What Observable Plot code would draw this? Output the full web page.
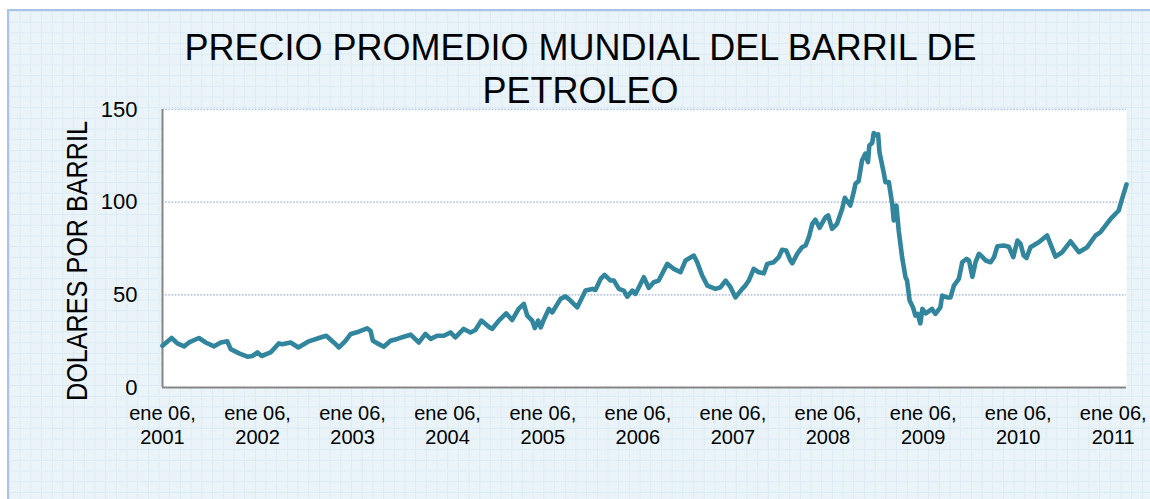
<!DOCTYPE html>
<html><head><meta charset="utf-8">
<script src="https://cdn.jsdelivr.net/npm/d3@7"></script>
<script src="https://cdn.jsdelivr.net/npm/@observablehq/plot@0.6"></script>
<style>
html,body{margin:0;padding:0;background:#fff;}
#wrap{position:relative;width:1150px;height:499px;overflow:hidden;background:#fff;}
#bg{position:absolute;left:7px;top:9px;width:1160px;height:500px;border-left:2px solid #a9c2e8;border-top:2px solid #a9c2e8;background-color:#eaf4f8;background-image:linear-gradient(#dbebf4 1px,transparent 1px),linear-gradient(90deg,#dbebf4 1px,transparent 1px);background-size:10.7px 10.7px;}
#title{position:absolute;left:0;width:1161px;top:26px;text-align:center;font-family:"Liberation Sans",Arial,sans-serif;font-size:36px;line-height:43px;color:#000;}
#ylab{position:absolute;left:77px;top:261px;transform:translate(-50%,-50%) rotate(-90deg) scaleX(0.84);white-space:nowrap;font-family:"Liberation Sans",Arial,sans-serif;font-size:30px;line-height:30px;color:#000;}
#chart{position:absolute;left:0;top:0;}
</style></head>
<body><div id="wrap"><div id="bg"></div><div id="chart"></div><div id="title">PRECIO PROMEDIO MUNDIAL DEL BARRIL DE<br>PETROLEO</div><div id="ylab">DOLARES POR BARRIL</div></div>
<script>
const dates = ["2001-01-06","2001-02-10","2001-03-04","2001-03-30","2001-04-18","2001-05-26","2001-06-21","2001-07-23","2001-08-18","2001-09-12","2001-09-25","2001-10-27","2001-11-28","2001-12-17",
"2002-01-06","2002-01-22","2002-02-25","2002-03-29","2002-04-11","2002-05-13","2002-06-12","2002-07-22","2002-08-30","2002-09-27","2002-10-26","2002-11-15","2002-12-10","2002-12-30",
"2003-01-30","2003-03-03","2003-03-16","2003-03-25","2003-04-17","2003-05-06","2003-06-01","2003-06-27","2003-07-22","2003-08-17","2003-09-18","2003-10-13","2003-11-02","2003-11-27","2003-12-23",
"2004-01-17","2004-02-05","2004-03-08","2004-04-03","2004-04-22","2004-05-15","2004-06-12","2004-06-25","2004-07-21","2004-08-18","2004-09-10","2004-10-05","2004-10-25","2004-11-07","2004-11-26","2004-12-06","2004-12-19","2004-12-29",
"2005-01-11","2005-01-29","2005-02-11","2005-03-15","2005-04-03","2005-04-22","2005-05-18","2005-06-19","2005-07-15","2005-07-27","2005-08-16","2005-08-31","2005-09-23","2005-10-06","2005-10-25","2005-11-13","2005-11-26","2005-12-16","2005-12-28",
"2006-01-29","2006-02-17","2006-03-08","2006-03-27","2006-04-29","2006-05-24","2006-06-19","2006-07-08","2006-08-09","2006-08-22","2006-09-10","2006-09-30","2006-10-31","2006-11-20","2006-12-09","2006-12-28",
"2007-01-16","2007-02-11","2007-02-23","2007-03-08","2007-03-27","2007-04-15","2007-05-05","2007-05-18","2007-06-12","2007-07-01","2007-07-14","2007-07-30","2007-08-15","2007-08-22","2007-09-10","2007-09-29","2007-10-12","2007-10-25","2007-11-07","2007-11-19","2007-12-05","2007-12-28",
"2008-01-07","2008-01-22","2008-02-10","2008-03-01","2008-03-11","2008-04-01","2008-04-14","2008-04-21","2008-05-03","2008-05-16","2008-05-29","2008-06-08","2008-06-13","2008-06-24","2008-06-30","2008-07-09","2008-07-17","2008-07-22","2008-08-07","2008-08-14","2008-08-27","2008-09-09","2008-09-15","2008-09-25","2008-10-04","2008-10-17","2008-10-30","2008-11-05","2008-11-15","2008-11-28","2008-12-07","2008-12-16","2008-12-26",
"2009-01-03","2009-01-16","2009-02-09","2009-02-22","2009-03-13","2009-03-20","2009-04-08","2009-04-21","2009-05-04","2009-05-23","2009-06-05","2009-06-22","2009-07-01","2009-07-14","2009-07-26","2009-08-08","2009-08-21","2009-09-03","2009-09-22","2009-10-05","2009-10-18","2009-11-12","2009-12-01","2009-12-18",
"2010-01-03","2010-01-15","2010-01-27","2010-02-07","2010-02-22","2010-03-26","2010-04-27","2010-05-29","2010-06-24","2010-07-26","2010-08-27","2010-09-28","2010-10-30","2010-11-18","2010-12-27",
"2011-01-27","2011-02-09","2011-02-26"];

const prices = [22.5,26.7,23.8,22.2,24.3,26.7,24.3,22.2,24.3,24.9,20.7,18.4,16.6,17.0,
18.9,17.0,18.9,23.8,23.4,24.3,21.6,24.9,26.7,27.9,24.3,21.6,25.2,28.9,
30.1,31.9,30.6,25.2,23.4,22.0,25.2,26.2,27.4,28.5,24.3,28.9,26.2,27.9,27.9,
29.7,27.0,31.6,29.7,31.0,36.1,32.8,31.6,36.1,40.0,36.4,42.4,45.1,38.8,36.1,32.1,36.1,32.4,
37.0,42.4,40.5,47.8,49.2,46.9,43.2,52.3,53.2,52.6,58.6,60.8,57.7,57.7,53.2,52.3,49.0,52.3,50.5,
59.5,53.7,56.8,57.7,66.7,64.0,62.2,68.5,71.2,67.6,60.4,55.0,53.2,54.1,57.7,54.1,
48.6,53.2,55.0,57.7,64.0,62.2,61.6,66.7,67.6,70.3,74.3,73.9,68.5,67.0,72.1,75.7,76.6,81.1,88.3,90.5,86.2,91.9,
92.8,85.6,88.3,96.4,102.4,98.2,105.4,109.9,111.4,122.5,126.2,121.6,130.6,131.9,137.3,136.1,136.6,127.0,116.2,110.8,110.8,99.1,90.1,98.2,84.7,70.3,59.5,57.7,46.9,43.2,38.8,39.7,34.6,
42.4,40.0,42.4,39.7,43.2,49.6,48.6,48.6,55.0,58.6,67.6,69.4,68.5,59.8,67.6,72.1,70.6,68.5,67.6,70.3,76.2,76.6,76.0,70.3,
79.3,77.5,71.2,69.9,75.7,78.4,82.0,70.6,73.0,78.9,73.0,75.7,82.0,83.8,91.0,
95.5,101.8,109.6];

const xTickDates = ["2001-01-06","2002-01-06","2003-01-06","2004-01-06","2005-01-06","2006-01-06","2007-01-06","2008-01-06","2009-01-06","2010-01-06","2011-01-06"];
const xTickLabels = ["ene 06,\n2001","ene 06,\n2002","ene 06,\n2003","ene 06,\n2004","ene 06,\n2005","ene 06,\n2006","ene 06,\n2007","ene 06,\n2008","ene 06,\n2009","ene 06,\n2010","ene 06,\n2011"];
const yTicks = [0, 50, 100, 150];
const yGrid = [50, 100, 150];

const data = dates.map((d, i) => ({date: new Date(d), price: prices[i]}));
const tickDates = xTickDates.map(d => new Date(d));
const labelMap = new Map(tickDates.map((d, i) => [+d, xTickLabels[i]]));
const xDomain = [new Date(dates[0]), new Date(dates[dates.length - 1])];

const chart = Plot.plot({
  width: 1150,
  height: 499,
  marginLeft: 162,
  marginRight: 24,
  marginTop: 109,
  marginBottom: 112,
  style: {background: "transparent", color: "#000", fontFamily: "'Liberation Sans', Arial, sans-serif", overflow: "visible"},
  x: {type: "utc", domain: xDomain},
  y: {domain: [0, 150]},
  marks: [
    Plot.frame({fill: "#fff", stroke: null}),
    Plot.gridY(yGrid, {stroke: "#b4c6e7", strokeOpacity: 1, strokeWidth: 1.6, strokeDasharray: "1.6,1.6"}),
    Plot.ruleX([xDomain[0]], {stroke: "#868686", strokeWidth: 2}),
    Plot.ruleY([0], {stroke: "#868686", strokeWidth: 2}),
    Plot.lineY(data, {x: "date", y: "price", stroke: "#31859c", strokeWidth: 4.6, strokeLinejoin: "round", strokeLinecap: "round"}),
    Plot.axisY(yTicks, {tickSize: 0, tickPadding: 25, fontSize: 22, fill: "#000", label: null}),
    Plot.axisX(tickDates, {tickSize: 0, tickPadding: 16, fontSize: 20, fill: "#000", lineHeight: 1.18, tickFormat: d => labelMap.get(+d), label: null})
  ]
});
document.getElementById("chart").appendChild(chart);
</script>
</body></html>
